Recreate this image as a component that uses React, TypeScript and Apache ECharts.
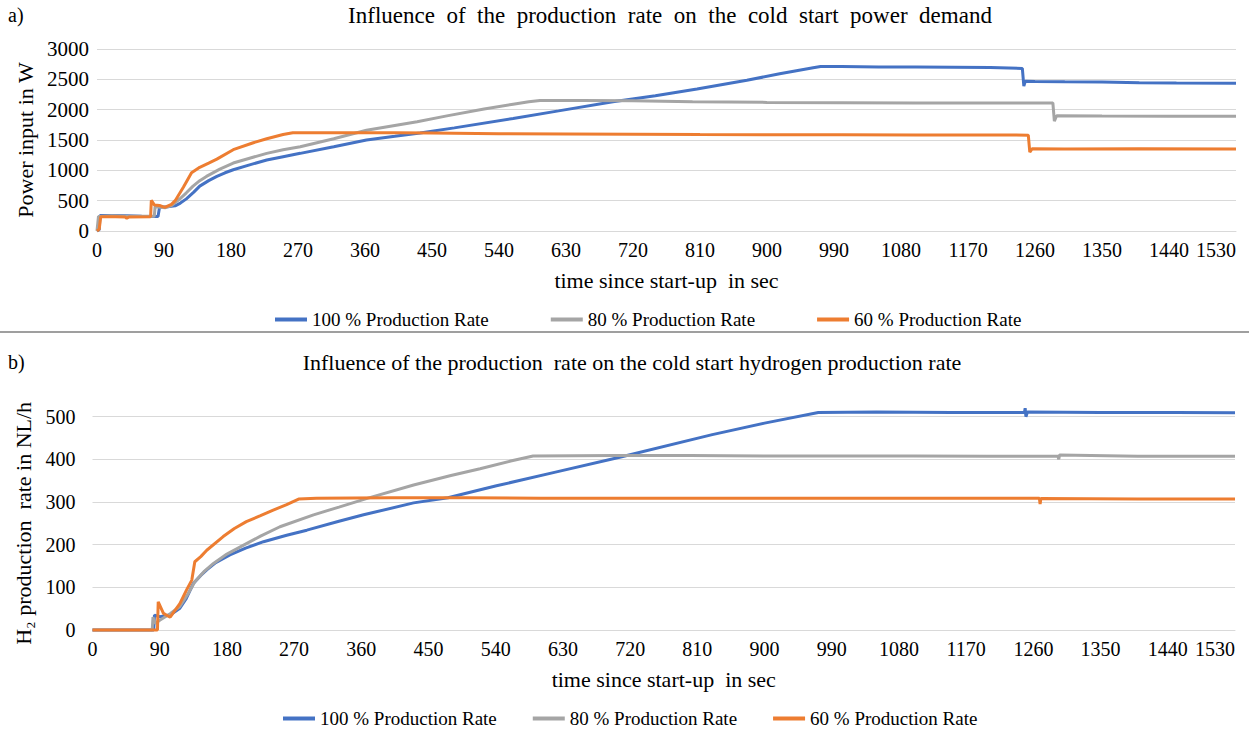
import React, { useEffect, useRef } from "react";
import * as echarts from "echarts";

const seriesNames = ["100 % Production Rate", "80 % Production Rate", "60 % Production Rate"];
const colors = ["#4472C4", "#A5A5A5", "#ED7D31"];

// Top: power input in W  [time s, W]
const power100: number[][] = [[0,0],[3,20],[4,255],[20,255],[40,250],[60,245],[82,240],[84,390],[95,400],[105,415],[112,460],[120,530],[130,640],[138,740],[150,830],[161,900],[172,960],[183,1010],[205,1090],[228,1170],[250,1225],[273,1280],[318,1390],[362,1500],[400,1560],[434,1615],[480,1700],[559,1856],[620,1980],[693,2130],[750,2230],[806,2340],[873,2484],[917,2593],[962,2690],[972,2710],[1000,2712],[1050,2705],[1100,2705],[1150,2700],[1200,2695],[1243,2680],[1245,2390],[1247,2470],[1260,2465],[1300,2460],[1350,2455],[1400,2445],[1450,2440],[1530,2435]];
const power80: number[][] = [[0,0],[2,240],[20,250],[40,245],[60,245],[77,245],[78,400],[85,390],[92,385],[100,420],[111,527],[120,630],[129,740],[138,830],[147,900],[165,1020],[183,1120],[205,1200],[228,1280],[250,1340],[273,1390],[318,1520],[362,1660],[430,1800],[470,1898],[520,2010],[559,2090],[580,2130],[595,2150],[650,2150],[720,2145],[800,2130],[900,2120],[1000,2115],[1100,2110],[1200,2110],[1284,2110],[1286,1810],[1289,1900],[1350,1895],[1440,1890],[1530,1890]];
const power60: number[][] = [[0,0],[3,30],[5,235],[25,235],[38,230],[40,210],[43,232],[72,235],[73,505],[77,430],[84,420],[91,390],[100,440],[105,500],[116,720],[127,960],[138,1050],[150,1120],[161,1185],[183,1340],[210,1455],[228,1520],[250,1590],[263,1620],[300,1620],[400,1618],[450,1615],[540,1605],[630,1600],[720,1595],[810,1590],[900,1588],[1000,1585],[1100,1583],[1200,1582],[1251,1580],[1253,1300],[1256,1355],[1300,1350],[1400,1355],[1530,1350]];

// Bottom: H2 production rate in NL/h  [time s, NL/h]
const h2100: number[][] = [[0,0],[82,0],[83,35],[90,31],[104,35],[117,51],[125,72],[135,109],[145,128],[153,141],[165,158],[184,176],[205,192],[229,207],[260,222],[287,234],[330,255],[363,270],[430,298],[476,310],[541,338],[620,370],[706,405],[830,458],[900,485],[972,510],[1050,511],[1150,510],[1248,510],[1249,520],[1250,500],[1252,511],[1350,510],[1450,510],[1530,509]];
const h280: number[][] = [[0,0],[80,0],[81,30],[84,15],[90,23],[104,38],[117,55],[128,85],[137,113],[150,138],[162,156],[180,178],[198,195],[225,220],[251,242],[296,270],[330,288],[369,309],[430,340],[480,362],[519,378],[560,396],[590,408],[700,409],[800,409],[900,408],[1000,408],[1100,408],[1200,407],[1293,407],[1294,400],[1295,410],[1400,407],[1530,407]];
const h260: number[][] = [[0,0],[87,0],[88,66],[95,39],[104,30],[117,62],[126,94],[133,117],[137,160],[145,172],[153,187],[175,219],[190,238],[206,254],[225,268],[242,281],[260,294],[276,307],[300,309],[400,310],[500,310],[600,309],[700,309],[800,309],[900,309],[1000,309],[1100,309],[1200,309],[1268,309],[1269,295],[1270,308],[1400,307],[1530,307]];

const FONT = '"Liberation Serif", "Times New Roman", serif';
const plain = (v: number) => String(v);

export default function App() {
  const ref = useRef<HTMLDivElement>(null);
  useEffect(() => {
    document.body.style.margin = "0";
    const chart = echarts.init(ref.current!, undefined, { renderer: "svg" });
    const gridLine = { lineStyle: { color: "#d9d9d9", width: 1 } };
    const xAxisBase = (gridIndex: number) => ({
      type: "value",
      gridIndex,
      min: 0,
      max: 1530,
      interval: 90,
      name: "time since start-up  in sec",
      nameLocation: "middle",
      nameGap: 38,
      nameTextStyle: { fontFamily: FONT, fontSize: 22, color: "#000" },
      axisLine: { show: true, lineStyle: { color: "#d9d9d9" } },
      axisTick: { show: false },
      splitLine: { show: false },
      axisLabel: { fontFamily: FONT, fontSize: 20, color: "#000", margin: 9, alignMaxLabel: "right", formatter: plain },
    });
    const mk = (name: string, i: number, data: number[][], axis: number) => ({
      type: "line",
      name,
      xAxisIndex: axis,
      yAxisIndex: axis,
      data,
      showSymbol: false,
      symbol: "none",
      clip: false,
      lineStyle: { color: colors[i], width: 3 },
      itemStyle: { color: colors[i] },
    });
    const legendBase = {
      icon: "rect",
      itemWidth: 32,
      itemHeight: 4,
      textStyle: { fontFamily: FONT, fontSize: 19, color: "#000" },
      data: seriesNames,
    };
    chart.setOption({
      animation: false,
      grid: [
        { left: 97, right: 13, top: 49, height: 182 },
        { left: 92.5, right: 14, top: 416.7, height: 213.3 },
      ],
      xAxis: [xAxisBase(0), xAxisBase(1)],
      yAxis: [
        {
          type: "value", gridIndex: 0, min: 0, max: 3000, interval: 500,
          name: "Power input in W", nameLocation: "middle", nameGap: 52,
          nameTextStyle: { fontFamily: FONT, fontSize: 22, color: "#000" },
          axisLine: { show: false }, axisTick: { show: false },
          splitLine: gridLine,
          axisLabel: { fontFamily: FONT, fontSize: 21, color: "#000", margin: 8, formatter: plain },
        },
        {
          type: "value", gridIndex: 1, min: 0, max: 500, interval: 100,
          name: "H₂ production  rate in NL/h", nameLocation: "middle", nameGap: 41,
          nameTextStyle: { fontFamily: FONT, fontSize: 22, color: "#000" },
          axisLine: { show: false }, axisTick: { show: false },
          splitLine: gridLine,
          axisLabel: { fontFamily: FONT, fontSize: 20, color: "#000", margin: 17, formatter: plain },
        },
      ],
      legend: [
        { ...legendBase, left: 270, top: 305, itemGap: 62 },
        { ...legendBase, left: 278, top: 704, itemGap: 36 },
      ],
      graphic: [
        { type: "text", x: 8, y: 15, style: { text: "a)", font: `20px ${FONT}`, fill: "#000", textVerticalAlign: "middle" } },
        { type: "text", x: 670, y: 15, style: { text: "Influence  of  the  production  rate  on  the  cold  start  power  demand", font: `23px ${FONT}`, fill: "#000", textAlign: "center", textVerticalAlign: "middle" } },
        { type: "line", shape: { x1: 0, y1: 332, x2: 1249, y2: 332 }, style: { stroke: "#7f7f7f", lineWidth: 1.5 } },
        { type: "text", x: 8, y: 362, style: { text: "b)", font: `20px ${FONT}`, fill: "#000", textVerticalAlign: "middle" } },
        { type: "text", x: 632, y: 362, style: { text: "Influence of the production  rate on the cold start hydrogen production rate", font: `22px ${FONT}`, fill: "#000", textAlign: "center", textVerticalAlign: "middle" } },
      ],
      series: [
        mk(seriesNames[0], 0, power100, 0),
        mk(seriesNames[1], 1, power80, 0),
        mk(seriesNames[2], 2, power60, 0),
        mk(seriesNames[0], 0, h2100, 1),
        mk(seriesNames[1], 1, h280, 1),
        mk(seriesNames[2], 2, h260, 1),
      ],
    });
    return () => chart.dispose();
  }, []);
  return <div ref={ref} style={{ width: 1249, height: 729 }} />;
}
